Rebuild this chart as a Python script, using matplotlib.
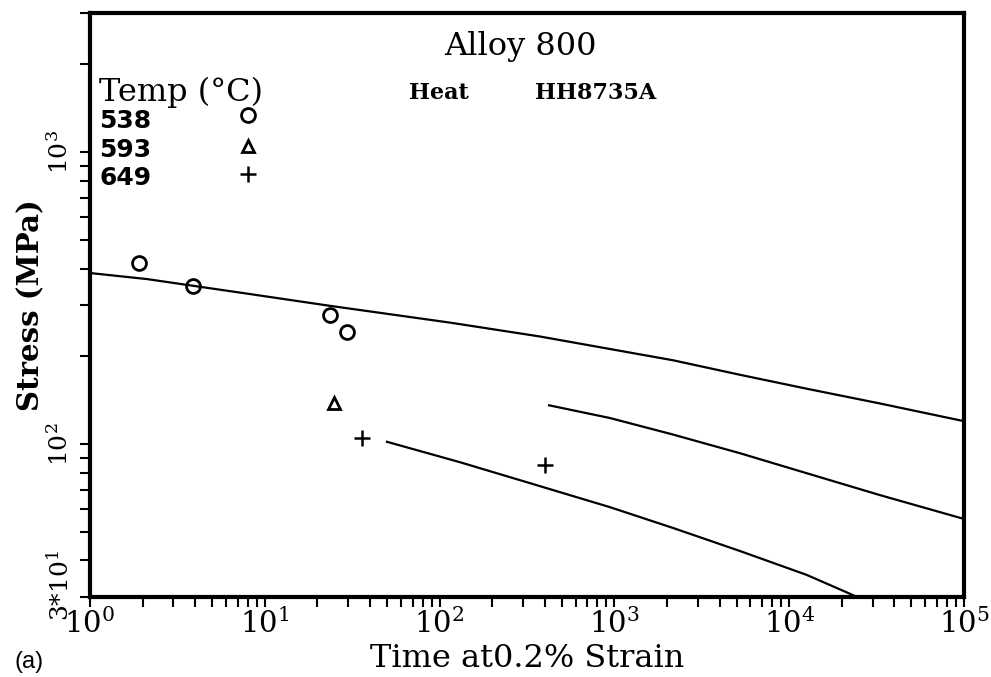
import matplotlib
matplotlib.use("Agg")
import matplotlib.pyplot as plt
from matplotlib.ticker import FixedLocator, LogLocator, NullFormatter, FixedFormatter
from matplotlib.transforms import ScaledTranslation

plt.rcParams['mathtext.fontset'] = 'dejavuserif'

# Data points (time in h, stress in MPa)
t538 = [1.9, 3.9, 23.6, 29.5]
s538 = [418, 349, 278, 243]
t593 = [24.9]
s593 = [138]
t649 = [36, 401]
s649 = [105, 85]

# Fitted curves
c538_t = [1, 2.12, 8.23, 23.6, 115, 375, 2163, 5230, 12600, 33000, 100000]
c538_s = [386, 368, 327, 298, 261, 234, 194, 173, 155, 138, 120]
c593_t = [423, 944, 2163, 5230, 12600, 33000, 100000]
c593_s = [136, 123, 108, 93.2, 79.6, 67.0, 55.5]
c649_t = [50, 131, 375, 944, 2163, 5230, 12600, 24500]
c649_s = [102, 86.8, 71.9, 60.9, 51.7, 43.1, 35.7, 30]

xticks = [1, 10, 100, 1000, 10000, 100000]
xticklabels = [r'$10^{0}$', r'$10^{1}$', r'$10^{2}$', r'$10^{3}$', r'$10^{4}$', r'$10^{5}$']
yticks = [30, 100, 1000]
yticklabels = [r'$3{*}10^{1}$', r'$10^{2}$', r'$10^{3}$']

fig = plt.figure(figsize=(9.91, 6.77), dpi=100)
ax = fig.add_axes([0.0908, 0.1182, 0.8820, 0.8626])
ax.set_xscale('log')
ax.set_yscale('log')
ax.set_xlim(1, 1e5)
ax.set_ylim(30, 3000)

lw = 1.6
for ct, cs in [(c538_t, c538_s), (c593_t, c593_s), (c649_t, c649_s)]:
    ax.plot(ct, cs, color='black', lw=lw, solid_joinstyle='round')

ax.plot(t538, s538, 'o', ms=10, mfc='none', mec='black', mew=2)
ax.plot(t593, s593, '^', ms=9, mfc='none', mec='black', mew=2)
ax.plot(t649, s649, '+', ms=12, mec='black', mew=1.8)

for sp in ax.spines.values():
    sp.set_linewidth(3)

ax.xaxis.set_major_locator(FixedLocator(xticks))
ax.xaxis.set_major_formatter(FixedFormatter(xticklabels))
ax.xaxis.set_minor_locator(LogLocator(base=10, subs=range(2, 10)))
ax.xaxis.set_minor_formatter(NullFormatter())
ax.yaxis.set_major_locator(FixedLocator(yticks))
ax.yaxis.set_major_formatter(FixedFormatter(yticklabels))
ax.yaxis.set_minor_locator(LogLocator(base=10, subs=range(2, 10)))
ax.yaxis.set_minor_formatter(NullFormatter())

ax.tick_params(which='both', direction='out', top=False, right=False, width=1.5, length=7)
ax.tick_params(axis='x', which='major', labelsize=21, pad=1)
ax.tick_params(axis='y', which='major', labelsize=18, pad=5)

serif = 'DejaVu Serif'
ax.set_xlabel('Time at0.2% Strain', fontsize=23, family=serif, labelpad=3)
ax.set_ylabel('Stress (MPa)', fontsize=21, family=serif, fontweight='bold', labelpad=1)

# rotate y tick labels; nudge the lowest one up like the reference
yticks_objs = ax.yaxis.get_major_ticks()
for i, tk in enumerate(yticks_objs):
    tk.label1.set_rotation(90)
    tk.label1.set_va('center')
yticks_objs[0].label1.set_transform(yticks_objs[0].label1.get_transform()
                                     + ScaledTranslation(0, 8 / 72, fig.dpi_scale_trans))

fig.text(0.525, 0.932, 'Alloy 800', fontsize=23, family=serif, ha='center', va='center')
fig.text(0.100, 0.863, 'Temp (°C)', fontsize=23, family=serif, ha='left', va='center')
fig.text(0.413, 0.863, 'Heat', fontsize=16, family=serif, fontweight='bold', ha='left', va='center')
fig.text(0.540, 0.863, 'HH8735A', fontsize=16, family=serif, fontweight='bold', ha='left', va='center')
for txt, yy in [('538', 0.822), ('593', 0.778), ('649', 0.737)]:
    fig.text(0.100, yy, txt, fontsize=18, family='DejaVu Sans', fontweight='bold', ha='left', va='center')

# legend symbols
fig.lines.append(plt.Line2D([0.250], [0.830], marker='o', ms=10, mfc='none', mec='black', mew=2, transform=fig.transFigure))
fig.lines.append(plt.Line2D([0.250], [0.784], marker='^', ms=9, mfc='none', mec='black', mew=2, transform=fig.transFigure))
fig.lines.append(plt.Line2D([0.250], [0.743], marker='+', ms=12, mec='black', mew=1.8, transform=fig.transFigure))

fig.text(0.015, 0.022, '(a)', fontsize=17, family='Liberation Sans', ha='left', va='center')

fig.savefig('out.png', dpi=100)
